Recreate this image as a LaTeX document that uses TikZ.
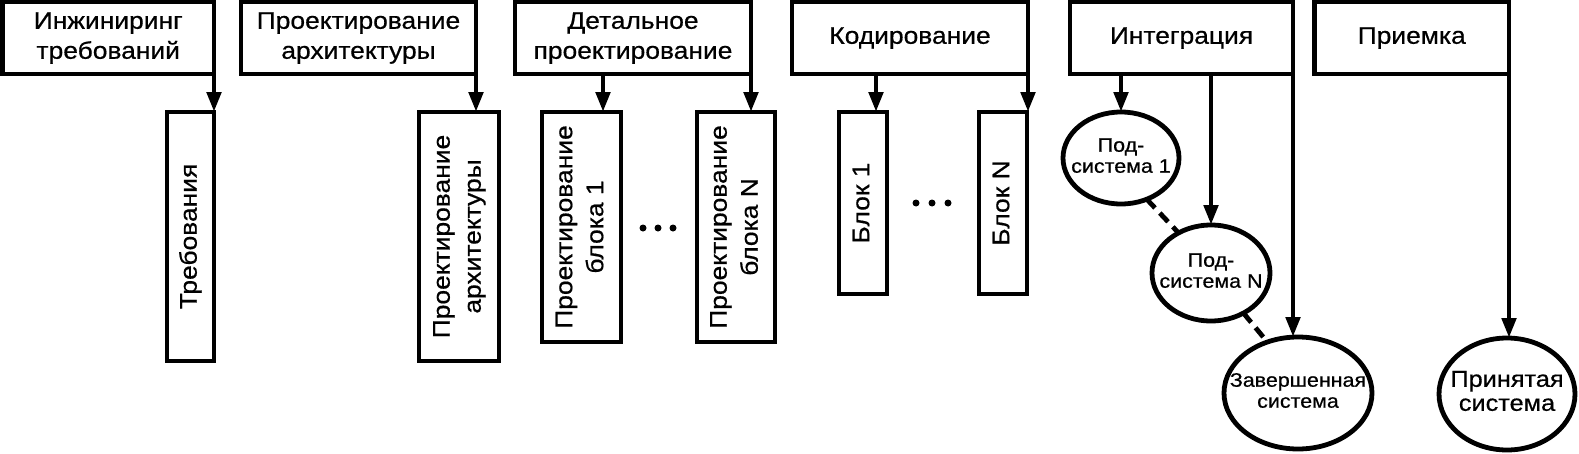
\documentclass[tikz,border=0pt]{standalone}
\usepackage{fontspec}
\setmainfont{Liberation Sans}[FakeStretch=1.1,FakeBold=0.6]
\usepackage{graphicx}
\usetikzlibrary{arrows.meta,shapes.geometric}
\newcommand{\myvtext}[1]{\rotatebox{90}{\begin{tabular}{@{}c@{}}#1\end{tabular}}}
\newcommand{\myetext}[1]{\makebox[0pt]{\begin{tabular}{@{}c@{}}#1\end{tabular}}}
\tikzset{
  lw/.style={line width=4.8pt},
  topbox/.style={draw, lw, rectangle, inner sep=0pt, outer sep=0pt, minimum height=72pt, align=center, font=\fontsize{24}{30}\selectfont},
  vbox/.style={draw, lw, rectangle, inner sep=0pt, outer sep=0pt, font=\fontsize{24}{31}\selectfont},
  ell/.style={draw, lw, ellipse, inner sep=0pt, outer sep=0pt, font=\fontsize{19.5}{21}\selectfont},
  arr/.style={lw, -{Triangle[length=20pt,width=14pt]}},
  dsh/.style={lw, dash pattern=on 12pt off 7pt},
  dotf/.style={fill=black},
}
\begin{document}
\begin{tikzpicture}[x=1pt,y=-1pt]
\useasboundingbox (0,0) rectangle (1579,453);
% top boxes
\node[topbox, minimum width=211.5pt] (b1) at (108.25,38) {Инжиниринг\\требований};
\node[topbox, minimum width=235pt] (b2) at (358.5,38) {Проектирование\\архитектуры};
\node[topbox, minimum width=236pt] (b3) at (633,38) {Детальное\\проектирование};
\node[topbox, minimum width=236pt] (b4) at (910,38) {Кодирование};
\node[topbox, minimum width=223pt] (b5) at (1181.5,38) {Интеграция};
\node[topbox, minimum width=194.5pt] (b6) at (1411.75,38) {Приемка};
% vertical boxes
\node[vbox, minimum width=47pt, minimum height=249pt] (req) at (190.5,236.5) {\myvtext{Требования}};
\node[vbox, minimum width=80pt, minimum height=249pt] (arch) at (459,236.5) {\myvtext{Проектирование\\архитектуры}};
\node[vbox, minimum width=79pt, minimum height=230pt] (d1) at (581.5,227) {\myvtext{Проектирование\\блока 1}};
\node[vbox, minimum width=78pt, minimum height=230pt] (dN) at (736,227) {\myvtext{Проектирование\\блока N}};
\node[vbox, minimum width=48pt, minimum height=182pt] (c1) at (863,203) {\myvtext{Блок 1}};
\node[vbox, minimum width=48pt, minimum height=182pt] (cN) at (1003,203) {\myvtext{Блок N}};
% ellipses
\node[ell, minimum width=116pt, minimum height=92pt] (s1) at (1121,158) {\myetext{Под-\\система 1}};
\node[ell, minimum width=118pt, minimum height=96pt] (sN) at (1211,273) {\myetext{Под-\\система N}};
\node[ell, minimum width=148pt, minimum height=112pt] (fin) at (1298,393) {\myetext{Завершенная\\система}};
\node[ell, minimum width=136pt, minimum height=112pt, font=\fontsize{23}{24}\selectfont] (acc) at (1507,394) {\myetext{Принятая\\система}};
% dots
\fill[dotf] (643,228) circle (3.5pt);
\fill[dotf] (658,228) circle (3.5pt);
\fill[dotf] (673,228) circle (3.5pt);
\fill[dotf] (916,203) circle (3.5pt);
\fill[dotf] (932,203) circle (3.5pt);
\fill[dotf] (948,203) circle (3.5pt);
% arrows
\draw[arr] (b1.south east) -- (req.north east);
\draw[arr] (b2.south east) -- (b2.south east |- arch.north);
\draw[arr] ([xshift=21.5pt]d1.north |- b3.south) -- ([xshift=21.5pt]d1.north);
\draw[arr] (b3.south east) -- (b3.south east |- dN.north);
\draw[arr] ([xshift=13pt]c1.north |- b4.south) -- ([xshift=13pt]c1.north);
\draw[arr] (b4.south east) -- (b4.south east |- cN.north);
\draw[arr] (s1.north |- b5.south) -- (s1.north);
\draw[arr] (sN.north |- b5.south) -- (sN.north);
\draw[arr] (b5.south east) -- (b5.south east |- fin.north);
\draw[arr] (b6.south east) -- (b6.south east |- acc.north);
% dashed links
\draw[dsh] (s1.-58) -- (sN.129);
\draw[dsh] (sN.-51) -- (fin.121);
\end{tikzpicture}
\end{document}
